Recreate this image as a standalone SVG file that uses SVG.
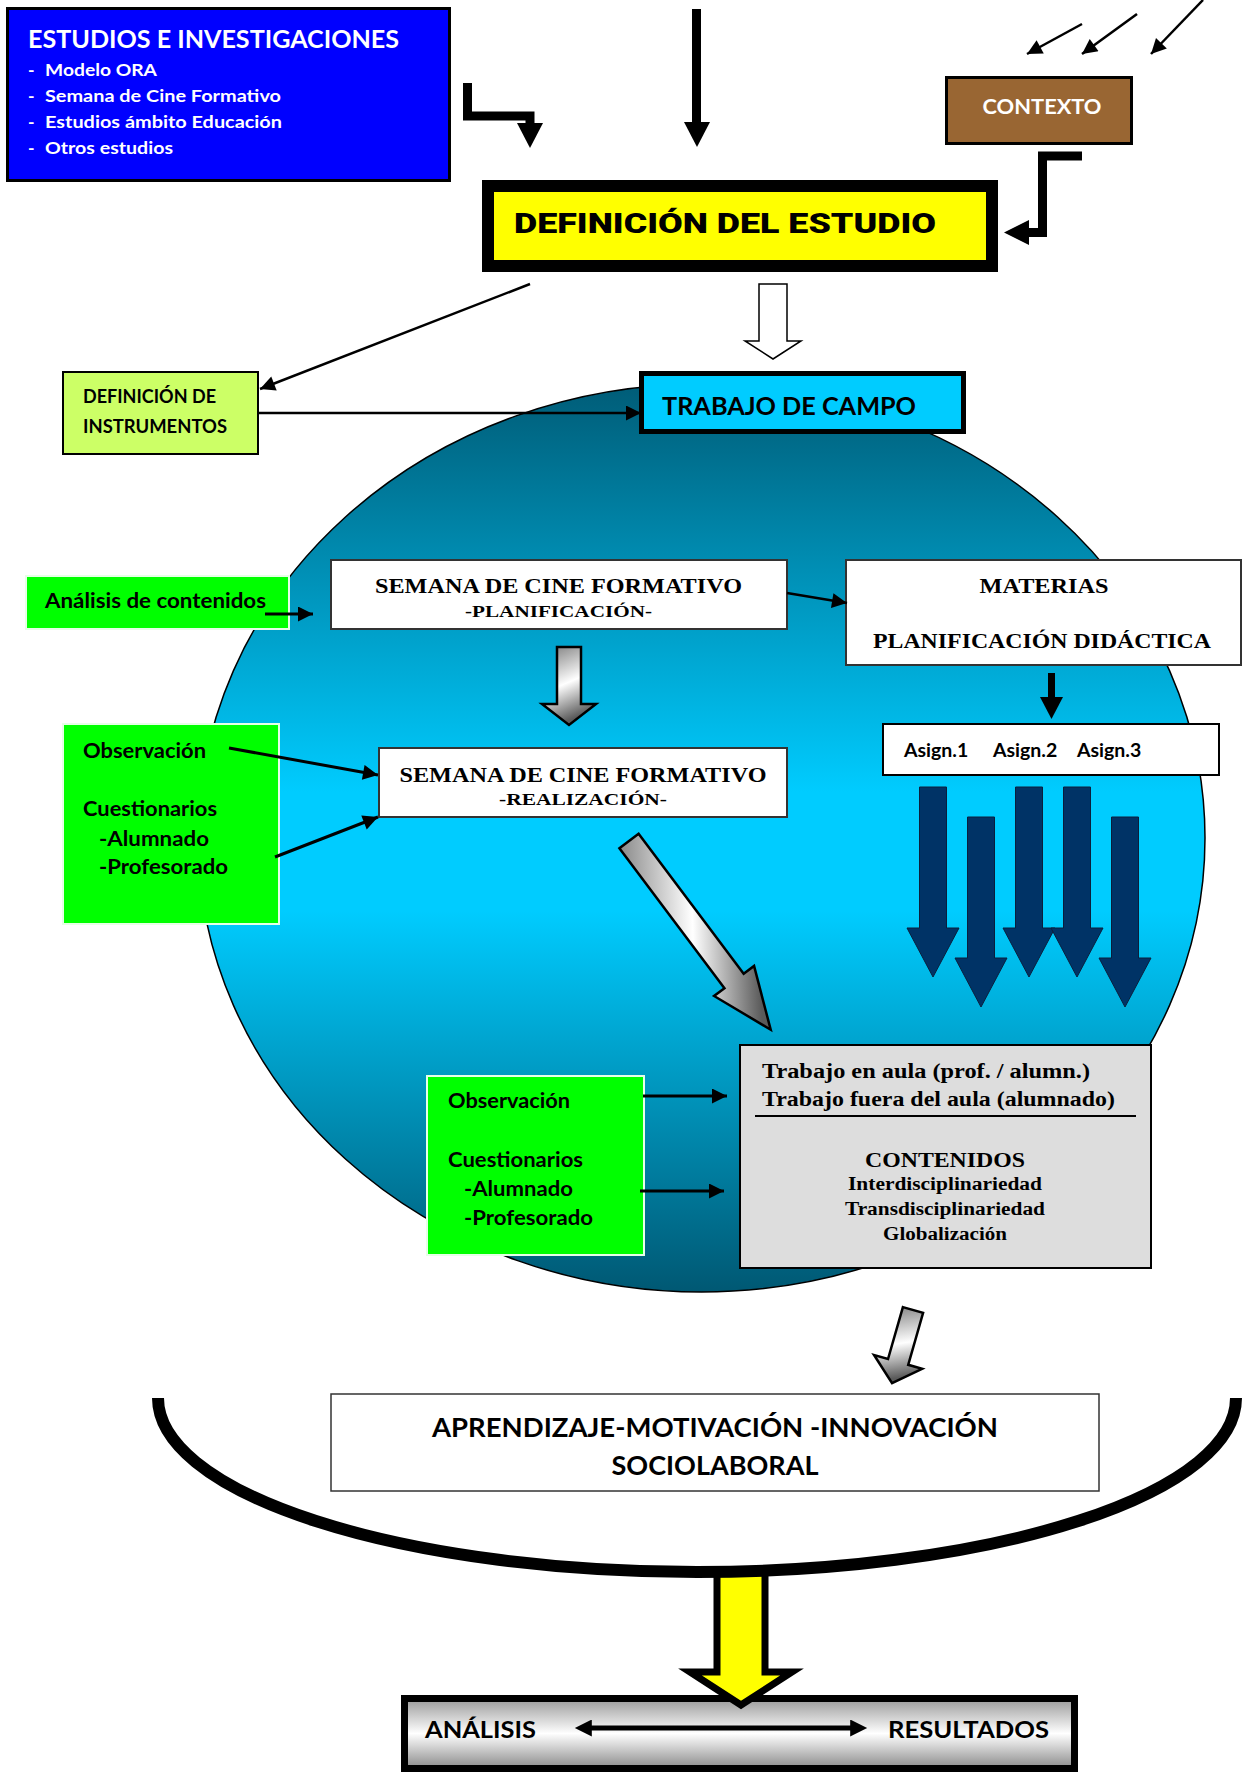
<svg xmlns="http://www.w3.org/2000/svg" width="1244" height="1772" viewBox="0 0 1244 1772">
<defs>
<style>
.sans{font-family:Lato,"Open Sans","Liberation Sans",sans-serif;font-weight:700}
.serif{font-family:"Liberation Serif","Times New Roman",serif;font-weight:700}
.heavy{font-family:Roboto,"Liberation Sans",sans-serif;font-weight:900}
.wbox{fill:#fff;stroke:#333;stroke-width:2}
.gbox{fill:#00ff00;stroke:#e6ffe6;stroke-width:2}
.ln{fill:none;stroke:#000;stroke-width:2.5}
.ln3{fill:none;stroke:#000;stroke-width:3}
.thick{fill:none;stroke:#000;stroke-width:9;stroke-linejoin:miter}
.navy{fill:#003366;stroke:#0a1f3d;stroke-width:1}
.shade{fill:url(#gGray);stroke:#000;stroke-width:2.5;stroke-linejoin:miter}
</style>
<linearGradient id="gBall" x1="0" y1="0" x2="0" y2="1">
<stop offset="0" stop-color="#005c77"/>
<stop offset="0.45" stop-color="#00ccff"/>
<stop offset="0.58" stop-color="#00ccff"/>
<stop offset="1" stop-color="#005873"/>
</linearGradient>
<linearGradient id="gGray" x1="0" y1="0" x2="0.3" y2="1">
<stop offset="0" stop-color="#777"/>
<stop offset="0.55" stop-color="#fff"/>
<stop offset="1" stop-color="#5a5a5a"/>
</linearGradient>
<linearGradient id="gBar" x1="0" y1="0" x2="0" y2="1">
<stop offset="0" stop-color="#999"/>
<stop offset="0.5" stop-color="#fff"/>
<stop offset="1" stop-color="#8a8a8a"/>
</linearGradient>
<marker id="ah" viewBox="0 0 10 10" refX="10" refY="5" markerWidth="17" markerHeight="15" markerUnits="userSpaceOnUse" orient="auto">
<path d="M0,0 L10,5 L0,10 z" fill="#000"/>
</marker>
<marker id="ahd" viewBox="0 0 10 10" refX="4" refY="5" markerWidth="18" markerHeight="17" markerUnits="userSpaceOnUse" orient="auto-start-reverse">
<path d="M0,0 L10,5 L0,10 z" fill="#000"/>
</marker>
<polygon id="navyArrow" points="-13.5,0 13.5,0 13.5,141 26,141 0,190 -26,141 -13.5,141"/>
</defs>

<rect width="1244" height="1772" fill="#fff"/>

<!-- big sphere -->
<g id="esfera">
<ellipse cx="701.5" cy="838" rx="503.5" ry="454" fill="url(#gBall)" stroke="#000" stroke-width="1.5"/>
</g>

<g id="estudios">
<rect x="7.5" y="8.5" width="442" height="172" fill="#0000ff" stroke="#000" stroke-width="3"/>
<text class="sans" x="28" y="47.5" font-size="24" fill="#fff" textLength="371" lengthAdjust="spacingAndGlyphs">ESTUDIOS E INVESTIGACIONES</text>
<g class="sans" font-size="17.5" fill="#fff">
<text x="28" y="76">-</text><text x="45" y="76" textLength="112" lengthAdjust="spacingAndGlyphs">Modelo ORA</text>
<text x="28" y="102">-</text><text x="45" y="102" textLength="236" lengthAdjust="spacingAndGlyphs">Semana de Cine Formativo</text>
<text x="28" y="128">-</text><text x="45" y="128" textLength="237" lengthAdjust="spacingAndGlyphs">Estudios ámbito Educación</text>
<text x="28" y="154">-</text><text x="45" y="154" textLength="128" lengthAdjust="spacingAndGlyphs">Otros estudios</text>
</g>
</g>

<g id="contexto">
<rect x="946.5" y="77.5" width="185" height="66" fill="#996633" stroke="#000" stroke-width="3"/>
<text class="sans" x="1042" y="114" font-size="21.5" fill="#fff" text-anchor="middle" textLength="119" lengthAdjust="spacingAndGlyphs">CONTEXTO</text>
</g>

<g id="definicion">
<rect x="488" y="186" width="504" height="80" fill="#ffff00" stroke="#000" stroke-width="12"/>
<text class="heavy" x="514" y="233" font-size="28" fill="#000" textLength="422" lengthAdjust="spacingAndGlyphs">DEFINICIÓN DEL ESTUDIO</text>
</g>

<g id="instrumentos">
<rect x="63" y="372" width="195" height="82" fill="#ccff66" stroke="#000" stroke-width="2"/>
<text class="sans" x="83" y="403" font-size="18" textLength="133" lengthAdjust="spacingAndGlyphs">DEFINICIÓN DE</text>
<text class="sans" x="83" y="433" font-size="18" textLength="144" lengthAdjust="spacingAndGlyphs">INSTRUMENTOS</text>
</g>

<g id="trabajo-campo">
<rect x="641.5" y="373.5" width="322" height="58" fill="#00ccff" stroke="#000" stroke-width="5"/>
<text class="sans" x="662" y="415" font-size="25" textLength="254" lengthAdjust="spacingAndGlyphs">TRABAJO DE CAMPO</text>
</g>

<g id="analisis-contenidos">
<rect x="26" y="576" width="263" height="53" class="gbox"/>
<text class="sans" x="45" y="608" font-size="20" textLength="221" lengthAdjust="spacingAndGlyphs">Análisis de contenidos</text>
</g>

<g id="semana-planificacion">
<rect x="331" y="560" width="456" height="69" class="wbox"/>
<text class="serif" x="558.5" y="593" font-size="22" text-anchor="middle" textLength="367" lengthAdjust="spacingAndGlyphs">SEMANA DE CINE FORMATIVO</text>
<text class="serif" x="558.5" y="617" font-size="17" text-anchor="middle" textLength="187" lengthAdjust="spacingAndGlyphs">-PLANIFICACIÓN-</text>
</g>

<g id="materias">
<rect x="846" y="560" width="395" height="105" class="wbox"/>
<text class="serif" x="1044" y="593" font-size="22" text-anchor="middle" textLength="129" lengthAdjust="spacingAndGlyphs">MATERIAS</text>
<text class="serif" x="1042" y="648" font-size="22" text-anchor="middle" textLength="338" lengthAdjust="spacingAndGlyphs">PLANIFICACIÓN DIDÁCTICA</text>
</g>

<g id="instrumentos-realizacion">
<rect x="63" y="724" width="216" height="200" class="gbox"/>
<g class="sans" font-size="20">
<text x="83" y="758" textLength="123" lengthAdjust="spacingAndGlyphs">Observación</text>
<text x="83" y="816" textLength="134" lengthAdjust="spacingAndGlyphs">Cuestionarios</text>
<text x="99" y="846" textLength="110" lengthAdjust="spacingAndGlyphs">-Alumnado</text>
<text x="99" y="874" textLength="129" lengthAdjust="spacingAndGlyphs">-Profesorado</text>
</g>
</g>

<g id="semana-realizacion">
<rect x="379" y="748" width="408" height="69" class="wbox"/>
<text class="serif" x="583" y="782" font-size="22" text-anchor="middle" textLength="367" lengthAdjust="spacingAndGlyphs">SEMANA DE CINE FORMATIVO</text>
<text class="serif" x="583" y="805" font-size="17" text-anchor="middle" textLength="168" lengthAdjust="spacingAndGlyphs">-REALIZACIÓN-</text>
</g>

<g id="asignaturas">
<rect x="883" y="724" width="336" height="51" fill="#fff" stroke="#000" stroke-width="2"/>
<text class="sans" y="757" font-size="19.5"><tspan x="904">Asign.1</tspan><tspan x="993">Asign.2</tspan><tspan x="1077">Asign.3</tspan></text>
</g>

<g id="asignaturas-flechas" class="navy">
<use href="#navyArrow" x="933" y="787"/>
<use href="#navyArrow" x="981" y="817"/>
<use href="#navyArrow" x="1029" y="787"/>
<use href="#navyArrow" x="1077" y="787"/>
<use href="#navyArrow" x="1125" y="817"/>
</g>

<g id="instrumentos-aula">
<rect x="427" y="1076" width="217" height="179" class="gbox"/>
<g class="sans" font-size="20">
<text x="448" y="1108" textLength="122" lengthAdjust="spacingAndGlyphs">Observación</text>
<text x="448" y="1167" textLength="135" lengthAdjust="spacingAndGlyphs">Cuestionarios</text>
<text x="464" y="1196" textLength="109" lengthAdjust="spacingAndGlyphs">-Alumnado</text>
<text x="464" y="1225" textLength="129" lengthAdjust="spacingAndGlyphs">-Profesorado</text>
</g>
</g>

<g id="trabajo-aula">
<rect x="740" y="1045" width="411" height="223" fill="#dddddd" stroke="#000" stroke-width="2"/>
<text class="serif" x="762" y="1078" font-size="20" textLength="328" lengthAdjust="spacingAndGlyphs">Trabajo en  aula (prof. / alumn.)</text>
<text class="serif" x="762" y="1106" font-size="20" textLength="353" lengthAdjust="spacingAndGlyphs">Trabajo fuera del aula (alumnado)</text>
<line x1="755" y1="1116" x2="1136" y2="1116" stroke="#000" stroke-width="2"/>
<text class="serif" x="945" y="1167" font-size="22" text-anchor="middle" textLength="160" lengthAdjust="spacingAndGlyphs">CONTENIDOS</text>
<text class="serif" x="945" y="1190" font-size="18" text-anchor="middle" textLength="194" lengthAdjust="spacingAndGlyphs">Interdisciplinariedad</text>
<text class="serif" x="945" y="1215" font-size="18" text-anchor="middle" textLength="200" lengthAdjust="spacingAndGlyphs">Transdisciplinariedad</text>
<text class="serif" x="945" y="1240" font-size="18" text-anchor="middle" textLength="124" lengthAdjust="spacingAndGlyphs">Globalización</text>
</g>

<g id="aprendizaje">
<rect x="331" y="1394" width="768" height="97" fill="#fff" stroke="#333" stroke-width="1.5"/>
<text class="sans" x="715" y="1437" font-size="27" text-anchor="middle" textLength="566" lengthAdjust="spacingAndGlyphs">APRENDIZAJE-MOTIVACIÓN -INNOVACIÓN</text>
<text class="sans" x="715" y="1475" font-size="27" text-anchor="middle" textLength="207" lengthAdjust="spacingAndGlyphs">SOCIOLABORAL</text>
</g>

<g id="analisis-resultados">
<rect x="404.5" y="1698.5" width="670" height="70" fill="url(#gBar)" stroke="#000" stroke-width="7"/>
<text class="sans" x="425" y="1738" font-size="23" textLength="111" lengthAdjust="spacingAndGlyphs">ANÁLISIS</text>
<text class="sans" x="888" y="1738" font-size="23" textLength="161" lengthAdjust="spacingAndGlyphs">RESULTADOS</text>
</g>

<g id="connectors">
<!-- top inputs -->
<path class="thick" d="M467.5 83 V116 H530 V124"/>
<polygon points="517,123 543,123 530,148" fill="#000"/>
<line x1="696.5" y1="9" x2="696.5" y2="124" stroke="#000" stroke-width="9"/>
<polygon points="684,122 710,122 697,147" fill="#000"/>
<line class="ln" x1="1082" y1="24" x2="1027" y2="54" marker-end="url(#ah)"/>
<line class="ln" x1="1137" y1="14" x2="1082" y2="54" marker-end="url(#ah)"/>
<line class="ln" x1="1203" y1="0" x2="1151" y2="54" marker-end="url(#ah)"/>
<path class="thick" d="M1082 156 H1042.5 V232.5 H1027"/>
<polygon points="1029,220 1029,245 1004,232.5" fill="#000"/>
<!-- definicion outputs -->
<polygon points="759,284 787,284 787,341 801,341 773,359 745,341 759,341" fill="#fff" stroke="#000" stroke-width="1.5"/>
<line class="ln" x1="530" y1="284" x2="260" y2="389" marker-end="url(#ah)"/>
<line class="ln" x1="258" y1="413" x2="641" y2="413" marker-end="url(#ah)"/>
<!-- inside sphere -->
<line class="ln3" x1="265" y1="614" x2="313" y2="614" marker-end="url(#ah)"/>
<line class="ln" x1="787" y1="593" x2="847" y2="603" marker-end="url(#ah)"/>
<polygon class="shade" points="557,647 581,647 581,704 596,704 569,725 542,704 557,704"/>
<line class="ln3" x1="229" y1="748" x2="378" y2="775" marker-end="url(#ah)"/>
<line class="ln3" x1="275" y1="857" x2="378" y2="817" marker-end="url(#ah)"/>
<rect x="1048" y="673" width="7" height="26" fill="#000"/>
<polygon points="1040,697 1063,697 1051.5,719" fill="#000"/>
<polygon class="shade" transform="translate(629,841) rotate(-36.9)" points="-12,0 12,0 12,175 25,175 0,236 -25,175 -12,175"/>
<line class="ln3" x1="643" y1="1096" x2="727" y2="1096" marker-end="url(#ah)"/>
<line class="ln3" x1="640" y1="1191" x2="724" y2="1191" marker-end="url(#ah)"/>
<!-- lower -->
<polygon class="shade" transform="translate(913,1310) rotate(16)" points="-10.5,0 10.5,0 10.5,54 25,54 0,76 -25,54 -10.5,54"/>
<polygon points="717,1572 765,1572 765,1672 792,1672 741,1705 690,1672 717,1672" fill="#ffff00" stroke="#000" stroke-width="7" stroke-linejoin="miter"/>
<path d="M158 1398 A539 174 0 0 0 1236 1398" fill="none" stroke="#000" stroke-width="12"/>
<line x1="585" y1="1728" x2="857" y2="1728" stroke="#000" stroke-width="5" marker-start="url(#ahd)" marker-end="url(#ahd)"/>
</g>
</svg>
